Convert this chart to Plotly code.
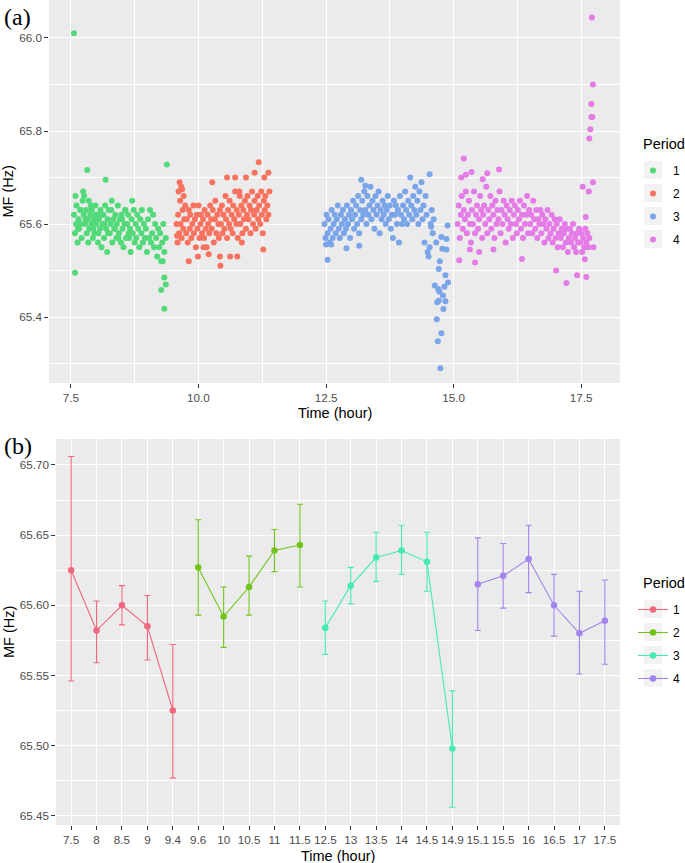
import plotly.graph_objects as go

# ---------------- Panel (a) data: MF readings by time, per period ----------------
p1_time = [7.56, 7.58, 7.60, 7.61, 7.63, 7.65, 7.66, 7.68, 7.70, 7.71,
           7.73, 7.75, 7.76, 7.78, 7.80, 7.81, 7.83, 7.85, 7.86, 7.88,
           7.90, 7.91, 7.93, 7.95, 7.96, 7.98, 8.00, 8.01, 8.03, 8.05,
           8.07, 8.08, 8.10, 8.12, 8.14, 8.15, 8.17, 8.19, 8.21, 8.22,
           8.24, 8.26, 8.28, 8.30, 8.31, 8.33, 8.35, 8.37, 8.39, 8.40,
           8.42, 8.44, 8.46, 8.48, 8.49, 8.51, 8.53, 8.55, 8.57, 8.58,
           8.60, 8.62, 8.64, 8.66, 8.67, 8.69, 8.71, 8.73, 8.75, 8.77,
           8.78, 8.80, 8.82, 8.84, 8.86, 8.88, 8.89, 8.91, 8.93, 8.95,
           8.97, 8.99, 9.01, 9.03, 9.05, 9.07, 9.09, 9.11, 9.13, 9.15,
           9.17, 9.19, 9.21, 9.23, 9.25, 9.27, 9.29, 9.31, 9.33, 9.36,
           7.59, 7.64, 7.69, 7.74, 7.79, 7.84, 7.89, 7.94, 7.99, 8.04,
           8.09, 8.16, 8.23, 8.29, 8.36, 8.43, 8.50, 8.56, 8.63, 8.70,
           7.56, 7.58, 7.82, 8.18, 9.38, 9.33, 9.36, 9.27, 9.33, 9.30]
p1_mf = [65.62, 65.58, 65.60, 65.64, 65.56, 65.61, 65.59, 65.63, 65.60, 65.57,
         65.65, 65.62, 65.66, 65.60, 65.63, 65.58, 65.61, 65.65, 65.59, 65.62,
         65.60, 65.63, 65.57, 65.61, 65.58, 65.64, 65.60, 65.62, 65.56, 65.61,
         65.59, 65.63, 65.55, 65.60, 65.62, 65.57, 65.64, 65.59, 65.54, 65.61,
         65.63, 65.58, 65.60, 65.65, 65.56, 65.61, 65.59, 65.62, 65.57, 65.60,
         65.64, 65.58, 65.61, 65.56, 65.62, 65.59, 65.55, 65.60, 65.63, 65.57,
         65.60, 65.62, 65.57, 65.59, 65.54, 65.61, 65.58, 65.63, 65.56, 65.60,
         65.57, 65.62, 65.59, 65.55, 65.61, 65.58, 65.63, 65.56, 65.60, 65.57,
         65.59, 65.54, 65.61, 65.57, 65.63, 65.56, 65.58, 65.62, 65.55, 65.60,
         65.57, 65.53, 65.59, 65.55, 65.58, 65.52, 65.56, 65.60, 65.54, 65.57,
         65.66, 65.59, 65.63, 65.67, 65.61, 65.56, 65.64, 65.59, 65.62, 65.58,
         65.62, 65.60, 65.58, 65.63, 65.59, 65.57, 65.61, 65.63, 65.58, 65.65,
         66.01, 65.495, 65.716, 65.695, 65.728, 65.485, 65.47, 65.458, 65.418, 65.52]

p2_time = [9.57, 9.59, 9.60, 9.62, 9.64, 9.65, 9.67, 9.69, 9.70, 9.72,
           9.74, 9.76, 9.77, 9.79, 9.81, 9.83, 9.84, 9.86, 9.88, 9.90,
           9.91, 9.93, 9.95, 9.97, 9.98, 10.00, 10.02, 10.04, 10.05, 10.07,
           10.09, 10.11, 10.12, 10.14, 10.16, 10.18, 10.19, 10.21, 10.23, 10.25,
           10.26, 10.28, 10.30, 10.32, 10.33, 10.35, 10.37, 10.39, 10.40, 10.42,
           10.44, 10.46, 10.47, 10.49, 10.51, 10.53, 10.54, 10.56, 10.58, 10.60,
           10.61, 10.63, 10.65, 10.67, 10.68, 10.70, 10.72, 10.74, 10.75, 10.77,
           10.79, 10.81, 10.82, 10.84, 10.86, 10.88, 10.89, 10.91, 10.93, 10.95,
           10.96, 10.98, 11.00, 11.02, 11.03, 11.05, 11.07, 11.09, 11.10, 11.12,
           11.14, 11.16, 11.17, 11.19, 11.21, 11.23, 11.24, 11.26, 11.28, 11.30,
           11.31, 11.33, 11.35, 11.37, 11.39, 9.61, 9.66, 9.71, 9.63, 9.68,
           10.27, 10.56, 10.72, 10.93, 11.10, 11.18, 11.29, 11.37, 10.80, 9.81,
           9.99, 10.20, 10.42, 10.43, 10.62, 10.76, 11.27, 9.58, 10.10, 10.85]
p2_mf = [65.60, 65.56, 65.62, 65.58, 65.65, 65.60, 65.57, 65.63, 65.59, 65.61,
         65.64, 65.58, 65.61, 65.56, 65.63, 65.59, 65.62, 65.57, 65.60, 65.64,
         65.58, 65.61, 65.55, 65.62, 65.59, 65.64, 65.57, 65.60, 65.62, 65.58,
         65.61, 65.57, 65.63, 65.59, 65.55, 65.62, 65.60, 65.58, 65.64, 65.61,
         65.59, 65.63, 65.56, 65.61, 65.65, 65.58, 65.62, 65.60, 65.57, 65.63,
         65.60, 65.64, 65.58, 65.62, 65.59, 65.66, 65.61, 65.57, 65.63, 65.60,
         65.65, 65.59, 65.62, 65.58, 65.64, 65.61, 65.67, 65.60, 65.63, 65.57,
         65.62, 65.66, 65.60, 65.64, 65.58, 65.63, 65.61, 65.65, 65.59, 65.62,
         65.66, 65.61, 65.64, 65.58, 65.63, 65.67, 65.60, 65.62, 65.65, 65.59,
         65.63, 65.66, 65.61, 65.64, 65.60, 65.67, 65.62, 65.58, 65.65, 65.63,
         65.66, 65.61, 65.64, 65.62, 65.67, 65.67, 65.68, 65.66, 65.69, 65.675,
         65.69, 65.70, 65.70, 65.70, 65.71, 65.733, 65.70, 65.71, 65.67, 65.52,
         65.53, 65.535, 65.53, 65.51, 65.53, 65.53, 65.545, 65.575, 65.55, 65.56]

p3_time = [12.47, 12.49, 12.51, 12.53, 12.55, 12.57, 12.59, 12.61, 12.63, 12.65,
           12.67, 12.69, 12.71, 12.73, 12.75, 12.77, 12.79, 12.81, 12.83, 12.85,
           12.87, 12.89, 12.91, 12.93, 12.95, 12.97, 12.99, 13.01, 13.03, 13.05,
           13.07, 13.09, 13.11, 13.13, 13.15, 13.17, 13.19, 13.21, 13.23, 13.25,
           13.27, 13.29, 13.31, 13.33, 13.35, 13.37, 13.39, 13.41, 13.43, 13.45,
           13.47, 13.49, 13.51, 13.53, 13.55, 13.57, 13.59, 13.61, 13.63, 13.65,
           13.67, 13.69, 13.71, 13.73, 13.75, 13.77, 13.79, 13.81, 13.83, 13.85,
           13.87, 13.89, 13.91, 13.93, 13.95, 13.97, 13.99, 14.01, 14.03, 14.05,
           14.07, 14.09, 14.11, 14.13, 14.15, 14.17, 14.19, 14.21, 14.23, 14.25,
           14.27, 14.29, 14.31, 14.33, 14.35, 14.37, 14.39, 14.41, 14.43, 14.45,
           14.47, 14.49, 14.51, 14.53, 14.55, 14.57, 14.59, 14.61, 14.56, 14.66,
           14.76, 14.86, 14.88, 14.78, 14.86, 14.73, 14.71, 14.84, 14.89, 14.63,
           14.70, 14.72, 14.82, 14.79, 14.68, 14.71, 14.84, 14.80, 14.67, 14.76,
           14.69, 14.74, 12.53, 12.50, 12.60, 12.90, 13.15, 13.19, 13.27, 14.53]
p3_mf = [65.60, 65.57, 65.62, 65.58, 65.61, 65.56, 65.59, 65.63, 65.57, 65.60,
         65.62, 65.58, 65.61, 65.64, 65.59, 65.57, 65.62, 65.60, 65.63, 65.58,
         65.61, 65.59, 65.64, 65.60, 65.62, 65.57, 65.63, 65.61, 65.65, 65.59,
         65.62, 65.64, 65.60, 65.66, 65.58, 65.63, 65.61, 65.65, 65.62, 65.67,
         65.63, 65.60, 65.66, 65.62, 65.64, 65.68, 65.61, 65.65, 65.63, 65.59,
         65.66, 65.62, 65.64, 65.67, 65.58, 65.63, 65.61, 65.65, 65.62, 65.64,
         65.60, 65.63, 65.66, 65.61, 65.64, 65.59, 65.62, 65.57, 65.65, 65.62,
         65.64, 65.60, 65.63, 65.56, 65.66, 65.62, 65.60, 65.64, 65.61, 65.67,
         65.63, 65.60, 65.65, 65.62, 65.70, 65.64, 65.61, 65.66, 65.63, 65.68,
         65.62, 65.65, 65.60, 65.67, 65.63, 65.69, 65.61, 65.64, 65.56, 65.66,
         65.62, 65.54, 65.53, 65.707, 65.60, 65.63, 65.58, 65.61, 65.594, 65.56,
         65.572, 65.568, 65.597, 65.547, 65.545, 65.52, 65.503, 65.49, 65.474, 65.468,
         65.46, 65.455, 65.465, 65.446, 65.432, 65.435, 65.434, 65.417, 65.395, 65.365,
         65.348, 65.29, 65.523, 65.556, 65.556, 65.548, 65.553, 65.695, 65.682, 65.55]

p4_time = [15.08, 15.10, 15.12, 15.14, 15.16, 15.18, 15.20, 15.22, 15.24, 15.26,
           15.28, 15.30, 15.32, 15.34, 15.36, 15.38, 15.40, 15.42, 15.44, 15.46,
           15.48, 15.50, 15.52, 15.54, 15.56, 15.58, 15.60, 15.62, 15.64, 15.66,
           15.68, 15.70, 15.72, 15.74, 15.76, 15.78, 15.80, 15.82, 15.84, 15.86,
           15.88, 15.90, 15.92, 15.94, 15.96, 15.98, 16.00, 16.02, 16.04, 16.06,
           16.08, 16.10, 16.12, 16.14, 16.16, 16.18, 16.20, 16.22, 16.24, 16.26,
           16.28, 16.30, 16.32, 16.34, 16.36, 16.38, 16.40, 16.42, 16.44, 16.46,
           16.48, 16.50, 16.52, 16.54, 16.56, 16.58, 16.60, 16.62, 16.64, 16.66,
           16.68, 16.70, 16.72, 16.74, 16.76, 16.78, 16.80, 16.82, 16.84, 16.86,
           16.88, 16.90, 16.92, 16.94, 16.96, 16.98, 17.00, 17.02, 17.04, 17.06,
           17.08, 17.10, 17.12, 17.14, 17.16, 17.18, 17.20, 17.22, 17.24, 17.26,
           17.28, 17.30, 17.32, 17.34, 17.36, 17.38, 17.40, 17.42, 17.44, 17.46,
           17.48, 17.50, 17.52, 17.54, 17.56, 17.58, 17.60, 17.62, 17.64, 17.66,
           15.20, 15.24, 15.15, 15.35, 15.66, 15.57, 15.89, 15.42, 16.34, 17.01,
           17.21, 17.42, 17.60, 17.57, 17.53, 17.65, 17.73, 17.66, 17.68, 17.70,
           17.72, 17.70, 17.73, 17.71, 17.74, 17.59, 15.11, 15.32, 15.50, 15.78]
p4_mf = [65.60, 65.64, 65.57, 65.62, 65.66, 65.59, 65.63, 65.61, 65.67, 65.58,
         65.62, 65.65, 65.60, 65.56, 65.63, 65.60, 65.67, 65.58, 65.62, 65.64,
         65.59, 65.61, 65.66, 65.63, 65.57, 65.62, 65.64, 65.60, 65.68, 65.58,
         65.63, 65.61, 65.66, 65.59, 65.64, 65.62, 65.57, 65.65, 65.60, 65.63,
         65.61, 65.67, 65.58, 65.63, 65.60, 65.65, 65.62, 65.56, 65.64, 65.61,
         65.59, 65.63, 65.60, 65.65, 65.57, 65.62, 65.64, 65.60, 65.58, 65.63,
         65.61, 65.65, 65.59, 65.62, 65.57, 65.64, 65.60, 65.62, 65.66, 65.58,
         65.63, 65.60, 65.62, 65.58, 65.65, 65.61, 65.59, 65.63, 65.57, 65.61,
         65.60, 65.63, 65.58, 65.62, 65.60, 65.56, 65.61, 65.59, 65.63, 65.57,
         65.60, 65.58, 65.62, 65.56, 65.59, 65.61, 65.57, 65.60, 65.55, 65.58,
         65.61, 65.57, 65.59, 65.55, 65.58, 65.60, 65.56, 65.59, 65.54, 65.57,
         65.59, 65.56, 65.58, 65.60, 65.55, 65.57, 65.54, 65.58, 65.56, 65.59,
         65.56, 65.58, 65.54, 65.57, 65.55, 65.59, 65.56, 65.58, 65.55, 65.57,
         65.741, 65.706, 65.70, 65.712, 65.709, 65.696, 65.717, 65.517, 65.525, 65.50,
         65.473, 65.49, 65.486, 65.524, 65.68, 65.67, 65.69, 65.784, 65.804, 65.83,
         65.83, 65.858, 65.90, 66.044, 65.55, 65.615, 65.522, 65.545, 65.54, 65.545]

# ---------------- Panel (b) data: mean MF with error bars ----------------
hour_labels = ["7.5", "8", "8.5", "9", "9.4",
               "9.6", "10", "10.5", "11", "11.5",
               "12.5", "13", "13.5", "14", "14.5", "14.9",
               "15.1", "15.5", "16", "16.5", "17", "17.5"]
period_of_hour = [1, 1, 1, 1, 1, 2, 2, 2, 2, 2, 3, 3, 3, 3, 3, 3, 4, 4, 4, 4, 4, 4]
mean_mf = [65.625, 65.582, 65.600, 65.585, 65.525,
           65.627, 65.592, 65.613, 65.639, 65.643,
           65.584, 65.614, 65.634, 65.639, 65.631, 65.498,
           65.615, 65.621, 65.633, 65.600, 65.580, 65.589]
upper_mf = [65.706, 65.603, 65.614, 65.607, 65.572,
            65.661, 65.613, 65.635, 65.654, 65.672,
            65.603, 65.627, 65.652, 65.657, 65.652, 65.539,
            65.648, 65.644, 65.657, 65.622, 65.610, 65.618]
lower_mf = [65.546, 65.559, 65.586, 65.561, 65.477,
            65.593, 65.570, 65.593, 65.624, 65.613,
            65.565, 65.601, 65.617, 65.622, 65.610, 65.456,
            65.582, 65.598, 65.609, 65.578, 65.551, 65.558]

periods = ["1", "2", "3", "4"]
colors_a = ["#52D979", "#F7735F", "#7AA5E9", "#E47BE7"]
colors_b = ["#F0687F", "#72C41B", "#45EAB3", "#A383EC"]

W, H = 685, 863
def px_x(p):
    return p / W
def px_y(p):
    return 1 - p / H

SANS = "Liberation Sans, Arial, sans-serif"
TICK_FONT = dict(family=SANS, size=11.7, color="#4D4D4D")
TITLE_FONT = dict(family=SANS, size=14.5, color="#000000")

fig = go.Figure()

series_a = [(p1_time, p1_mf), (p2_time, p2_mf), (p3_time, p3_mf), (p4_time, p4_mf)]
for i, (tt, vv) in enumerate(series_a):
    fig.add_trace(go.Scatter(
        x=tt, y=vv, mode="markers", name=periods[i],
        marker=dict(color=colors_a[i], size=6, line=dict(width=0)),
        xaxis="x", yaxis="y", legend="legend", legendgroup="a" + periods[i],
    ))

for i, per in enumerate([1, 2, 3, 4]):
    idx = [k for k, p in enumerate(period_of_hour) if p == per]
    xs = [hour_labels[k] for k in idx]
    ys = [mean_mf[k] for k in idx]
    up = [upper_mf[k] - mean_mf[k] for k in idx]
    dn = [mean_mf[k] - lower_mf[k] for k in idx]
    fig.add_trace(go.Scatter(
        x=xs, y=ys, mode="lines+markers", name=periods[i],
        line=dict(color=colors_b[i], width=1.1),
        marker=dict(color=colors_b[i], size=6.5),
        error_y=dict(type="data", symmetric=False, array=up, arrayminus=dn,
                     color=colors_b[i], thickness=1.1, width=3),
        xaxis="x2", yaxis="y2", legend="legend2", legendgroup="b" + periods[i],
    ))

axis_common = dict(showline=False, zeroline=False, gridcolor="#FFFFFF", gridwidth=1.1,
                   ticks="outside", ticklen=3.5, tickwidth=1, tickcolor="#333333",
                   tickfont=TICK_FONT)

legend_common = dict(xanchor="left", yanchor="top",
                     font=dict(family=SANS, size=12, color="#000"),
                     bgcolor="rgba(0,0,0,0)", tracegroupgap=4, itemwidth=30)

# legend item centres in the reference (pixels from top)
legend_a_items = [170, 193, 216, 239]
legend_b_items = [609, 632, 655, 678]

fig.update_layout(
    width=W, height=H,
    margin=dict(l=0, r=0, t=0, b=0),
    paper_bgcolor="#FFFFFF", plot_bgcolor="#EBEBEB",
    showlegend=True,
    xaxis=dict(domain=[px_x(49), px_x(621)], range=[7.069, 18.263], anchor="y",
               tick0=7.5, dtick=2.5, tickformat=".1f",
               minor=dict(showgrid=True, gridcolor="#FFFFFF", gridwidth=0.5, tick0=7.5, dtick=1.25),
               **axis_common),
    yaxis=dict(domain=[px_y(383), 1.0], range=[65.2581, 66.0817], anchor="x",
               tick0=65.4, dtick=0.2, tickformat=".1f",
               minor=dict(showgrid=True, gridcolor="#FFFFFF", gridwidth=0.5, tick0=65.3, dtick=0.1),
               **axis_common),
    xaxis2=dict(domain=[px_x(56), px_x(621)], range=[-0.6, 21.6], anchor="y2",
                type="category", categoryorder="array", categoryarray=hour_labels,
                **axis_common),
    yaxis2=dict(domain=[px_y(825), px_y(439)], range=[65.4434, 65.7185], anchor="x2",
                tick0=65.45, dtick=0.05, tickformat=".2f",
                minor=dict(showgrid=True, gridcolor="#FFFFFF", gridwidth=0.5, tick0=65.425, dtick=0.025),
                **axis_common),
    legend=dict(x=px_x(634), y=px_y(legend_a_items[0] - 14), **legend_common),
    legend2=dict(x=px_x(634), y=px_y(legend_b_items[0] - 14), **legend_common),
)

# light grey legend key backgrounds (ggplot style)
shapes = []
for cy in legend_a_items + legend_b_items:
    shapes.append(dict(type="rect", xref="paper", yref="paper",
                       x0=px_x(645), x1=px_x(663), y0=px_y(cy + 9), y1=px_y(cy - 9),
                       fillcolor="#F2F2F2", line=dict(width=0), layer="below"))
fig.update_layout(shapes=shapes)

annotations = [
    dict(text="(a)", x=px_x(2), y=px_y(17), xanchor="left", yanchor="middle",
         font=dict(family="Liberation Serif, Times New Roman, serif", size=24, color="#000")),
    dict(text="(b)", x=px_x(2), y=px_y(446), xanchor="left", yanchor="middle",
         font=dict(family="Liberation Serif, Times New Roman, serif", size=24, color="#000")),
    dict(text="Time (hour)", x=px_x(335), y=px_y(413), xanchor="center", yanchor="middle", font=TITLE_FONT),
    dict(text="Time (hour)", x=px_x(338.5), y=px_y(856), xanchor="center", yanchor="middle", font=TITLE_FONT),
    dict(text="MF (Hz)", x=px_x(9), y=px_y(191.5), xanchor="center", yanchor="middle",
         textangle=-90, font=TITLE_FONT),
    dict(text="MF (Hz)", x=px_x(9), y=px_y(632), xanchor="center", yanchor="middle",
         textangle=-90, font=TITLE_FONT),
    dict(text="Period", x=px_x(642), y=px_y(144), xanchor="left", yanchor="middle", font=TITLE_FONT),
    dict(text="Period", x=px_x(642), y=px_y(583), xanchor="left", yanchor="middle", font=TITLE_FONT),
]
for a in annotations:
    a.update(xref="paper", yref="paper", showarrow=False)
fig.update_layout(annotations=annotations)

fig.write_html("out.html", config={"displayModeBar": False},
               post_script="document.body.style.margin='0px';")
